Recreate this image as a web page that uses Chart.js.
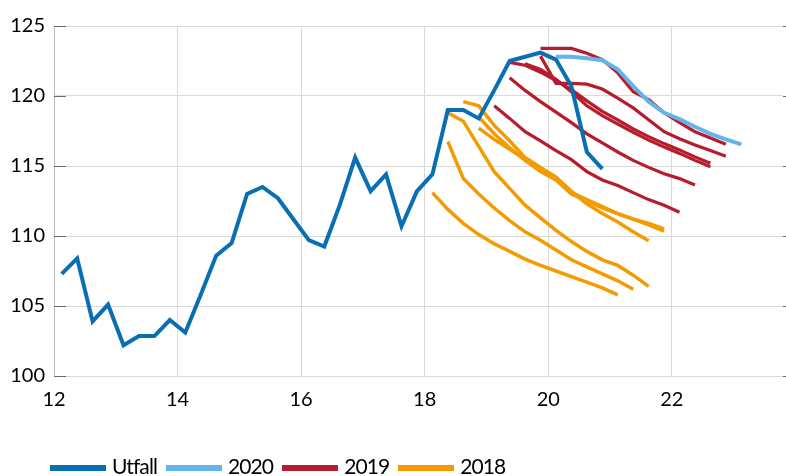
<!DOCTYPE html>
<html>
<head>
<meta charset="utf-8">
<script src="https://cdn.jsdelivr.net/npm/chart.js@4/dist/chart.umd.min.js"></script>
<style>
  html, body { margin: 0; padding: 0; background: #fff; }
  #wrap { position: relative; width: 786px; height: 476px; overflow: hidden; }
  #chart { position: absolute; left: 0; top: 0; }
  #legend { position: absolute; left: 50px; top: 453px; display: flex; align-items: center;
            font: 21px Lato, sans-serif; letter-spacing: -0.9px; color: #000; white-space: nowrap; }
  #legend .item { display: flex; align-items: center; margin-right: 9px; }
  #legend .swatch { width: 56px; height: 6px; margin-right: 6px; margin-top: 4px; }
</style>
</head>
<body>
<div id="wrap">
  <canvas id="chart" width="786" height="476"></canvas>
  <div id="legend"></div>
</div>
<script>
// Kvartalsdata: x = år + (kvartal - 0,5) / 4
const steg = 0.25;

// Utfall
const utfallStart = 12.125;
const utfall = [107.3, 108.4, 103.9, 105.1, 102.2, 102.85, 102.85, 104.0, 103.1, 105.8, 108.6, 109.5,
  113.0, 113.5, 112.7, 111.2, 109.7, 109.25, 112.2, 115.6, 113.2, 114.4, 110.7, 113.2,
  114.4, 119.0, 119.0, 118.4, 120.4, 122.5, 122.8, 123.1, 122.6, 120.7, 116.0, 114.8];

// Prognoser 2020
const start2020 = [20.125];
const prognoser2020 = [
  [122.8, 122.8, 122.7, 122.55, 121.9, 120.7, 119.6, 118.8, 118.35, 117.8, 117.3, 116.9, 116.55]
];

// Prognoser 2019
const start2019 = [19.875, 19.875, 19.375, 19.625, 19.375, 19.125];
const prognoser2019 = [
  [123.4, 123.4, 123.4, 123.05, 122.6, 121.65, 120.3, 119.75, 118.8, 118.1, 117.45, 117.0, 116.55],
  [122.85, 120.9, 120.9, 120.85, 120.5, 119.85, 119.15, 118.3, 117.45, 116.95, 116.5, 116.1, 115.7],
  [122.4, 122.2, 121.7, 121.1, 120.45, 119.65, 118.9, 118.3, 117.65, 117.1, 116.6, 116.15, 115.65, 115.2],
  [122.3, 121.9, 121.2, 120.3, 119.3, 118.6, 118.0, 117.4, 116.85, 116.35, 115.9, 115.4, 114.95],
  [121.3, 120.4, 119.6, 118.85, 118.1, 117.3, 116.65, 116.0, 115.4, 114.9, 114.45, 114.1, 113.65],
  [119.3, 118.4, 117.45, 116.8, 116.1, 115.45, 114.6, 114.0, 113.6, 113.1, 112.6, 112.2, 111.7]
];

// Prognoser 2018
const start2018 = [18.125, 18.375, 18.375, 18.625, 18.875, 18.875];
const prognoser2018 = [
  [113.1, 111.9, 110.9, 110.1, 109.45, 108.9, 108.35, 107.9, 107.5, 107.1, 106.7, 106.3, 105.8],
  [116.75, 114.1, 113.0, 112.0, 111.1, 110.3, 109.7, 109.0, 108.3, 107.8, 107.3, 106.8, 106.2],
  [118.8, 118.2, 116.4, 114.6, 113.4, 112.2, 111.3, 110.4, 109.6, 108.9, 108.3, 107.9, 107.2, 106.4],
  [119.6, 119.3, 117.9, 116.8, 115.6, 114.9, 114.2, 113.2, 112.3, 111.6, 111.0, 110.3, 109.66],
  [117.7, 116.9, 116.2, 115.5, 114.8, 114.2, 113.1, 112.6, 112.1, 111.6, 111.2, 110.8, 110.35],
  [118.5, 117.3, 116.3, 115.4, 114.6, 114.0, 113.0, 112.5, 112.0, 111.6, 111.2, 110.9, 110.5]
];

// Akser
const xMin = 12, xMax = 23.8, xSteg = 2;
const yMin = 100, yMax = 125, ySteg = 5;

// Serier i tegnforklaringen
const serier = ["Utfall", "2020", "2019", "2018"];
const farger = ["#0a6fb2", "#62b4ec", "#b71c2c", "#f39b00"];
const bredder = [4, 4, 3.2, 3.5];

const tilPunkter = (start, verdier) => verdier.map((v, i) => ({ x: start + i * steg, y: v }));

const linje = (label, punkter, k) => ({
  label: label,
  data: punkter,
  borderColor: farger[k],
  backgroundColor: farger[k],
  borderWidth: bredder[k],
  pointRadius: 0,
  tension: 0,
  fill: false
});

// Utfall først slik at den tegnes øverst
const datasets = [linje(serier[0], tilPunkter(utfallStart, utfall), 0)];
prognoser2020.forEach((p, i) => datasets.push(linje(serier[1], tilPunkter(start2020[i], p), 1)));
prognoser2019.forEach((p, i) => datasets.push(linje(serier[2], tilPunkter(start2019[i], p), 2)));
prognoser2018.forEach((p, i) => datasets.push(linje(serier[3], tilPunkter(start2018[i], p), 3)));

// Korte tikkmerker på venstre og høyre side av plottet
const tikkmerker = {
  id: "tikkmerker",
  beforeDatasetsDraw(chart) {
    const { ctx, chartArea, scales } = chart;
    ctx.save();
    ctx.strokeStyle = "#6b6b6b";
    ctx.lineWidth = 1;
    scales.y.ticks.forEach((t) => {
      const py = Math.round(scales.y.getPixelForValue(t.value)) + 0.5;
      ctx.beginPath();
      ctx.moveTo(chartArea.left, py);
      ctx.lineTo(chartArea.left + 12, py);
      ctx.moveTo(chartArea.right, py);
      ctx.lineTo(chartArea.right + 4, py);
      ctx.stroke();
    });
    ctx.restore();
  }
};

const fontTikk = { family: "Lato, sans-serif", size: 20 };

new Chart(document.getElementById("chart"), {
  type: "line",
  data: { datasets: datasets },
  options: {
    responsive: false,
    animation: false,
    layout: { padding: { top: 26, right: 3, left: 0, bottom: 0 } },
    plugins: {
      legend: { display: false },
      tooltip: { enabled: false }
    },
    scales: {
      x: {
        type: "linear",
        min: xMin,
        max: xMax,
        ticks: { stepSize: xSteg, includeBounds: false, font: fontTikk, color: "#000", padding: 12, maxRotation: 0 },
        grid: { color: "#d9d9d9", drawTicks: false },
        border: { display: false },
        afterFit: (scale) => { scale.height = 100; }
      },
      y: {
        min: yMin,
        max: yMax,
        ticks: { stepSize: ySteg, font: fontTikk, color: "#000", padding: 9 },
        grid: { color: "#d9d9d9", drawTicks: false },
        border: { display: true, color: "#bdbdbd" },
        afterFit: (scale) => { scale.width = 54; }
      }
    }
  },
  plugins: [tikkmerker]
});

// Tegnforklaring under figuren
const legend = document.getElementById("legend");
serier.forEach((navn, k) => {
  const item = document.createElement("div");
  item.className = "item";
  const swatch = document.createElement("span");
  swatch.className = "swatch";
  swatch.style.background = farger[k];
  const tekst = document.createElement("span");
  tekst.textContent = navn;
  item.appendChild(swatch);
  item.appendChild(tekst);
  legend.appendChild(item);
});
</script>
</body>
</html>
